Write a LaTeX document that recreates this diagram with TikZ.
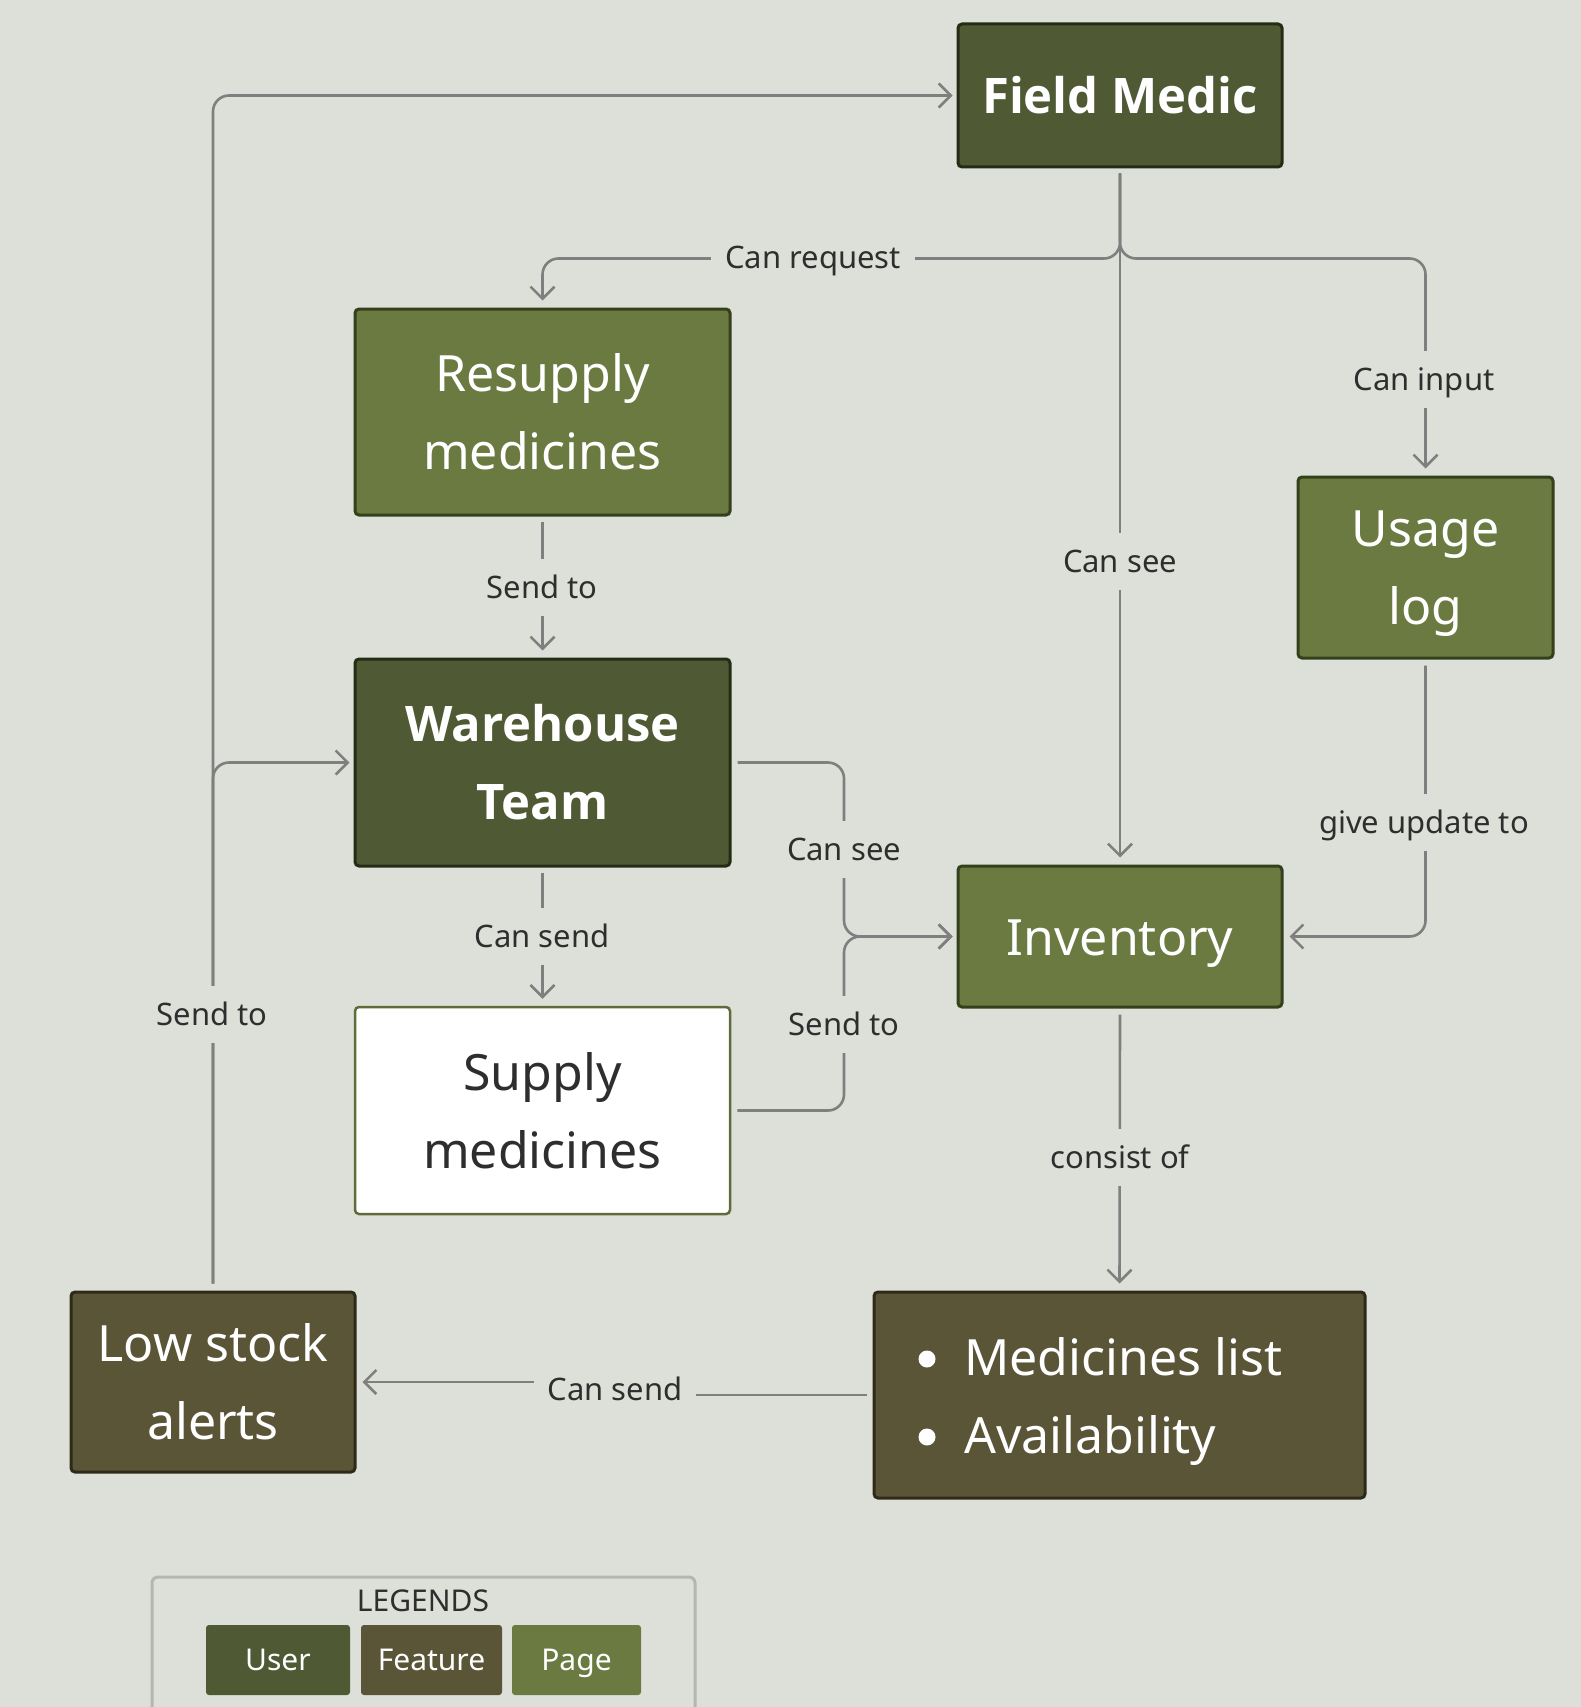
\documentclass[tikz,border=0pt]{standalone}
\usepackage{fontspec}
\setmainfont{Noto Sans}
\IfFontExistsTF{Noto Sans Bold}{\newfontfamily\boldfam{Noto Sans Bold}}{%
  \IfFontExistsTF{Open Sans Bold}{\newfontfamily\boldfam{Open Sans Bold}}{%
    \newfontfamily\boldfam{Noto Sans}[FakeBold=2.5]}}
\usetikzlibrary{arrows.meta,calc}
\definecolor{bg}{HTML}{DDE0D8}
\definecolor{userC}{HTML}{4F5A35}
\definecolor{featC}{HTML}{5B5538}
\definecolor{pageC}{HTML}{6A7A41}
\definecolor{userB}{HTML}{252B15}
\definecolor{featB}{HTML}{2E2A1A}
\definecolor{pageB}{HTML}{34401C}
\definecolor{supB}{HTML}{5F6B3A}
\definecolor{lineC}{HTML}{7F7F7F}
\definecolor{lblC}{HTML}{2E2E2E}
\definecolor{legB}{HTML}{B4B7B0}
\tikzset{
  box/.style={rectangle, rounded corners=4pt, line width=3pt, align=center, text=white, inner sep=0pt,
    font=\fontsize{50}{78}\selectfont},
  userbox/.style={box, fill=userC, draw=userB, font=\boldfam\fontsize{49}{78}\selectfont},
  featbox/.style={box, fill=featC, draw=featB},
  pagebox/.style={box, fill=pageC, draw=pageB},
  whitebox/.style={box, fill=white, draw=supB, line width=2.5pt, text=lblC},
  conn/.style={draw=lineC, line width=2.6pt, rounded corners=16pt,
    -{Straight Barb[length=12pt,width=24pt]}},
  lbl/.style={fill=bg, text=lblC, inner xsep=14pt, inner ysep=17pt,
    text height=23pt, text depth=0pt, font=\fontsize{31}{36}\selectfont},
  legitem/.style={rectangle, rounded corners=3pt, text=white, inner sep=0pt,
    minimum height=70pt, text height=21pt, text depth=0pt, font=\fontsize{30}{36}\selectfont},
}
\begin{document}
\begin{tikzpicture}[x=1pt,y=-1pt]
\fill[bg] (0,0) rectangle (1581,1707);
\useasboundingbox (0,0) rectangle (1581,1707);

% nodes
\node[userbox, minimum width=324pt, minimum height=143pt] (fm) at (1120,95.5) {Field Medic};
\node[pagebox, minimum width=375pt, minimum height=206pt] (res) at (542.5,412) {Resupply\\medicines};
\node[pagebox, minimum width=255pt, minimum height=181pt] (usage) at (1425.5,567.5) {Usage\\\smash{log}};
\node[userbox, minimum width=375pt, minimum height=207pt] (wh) at (542.5,762.5) {Warehouse\\Team};
\node[pagebox, minimum width=324pt, minimum height=141pt, text height=37pt, text depth=0pt] (inv) at (1120,936.5) {Inventory};
\node[whitebox, minimum width=375pt, minimum height=207pt] (sup) at (542.5,1110.5) {Supply\\medicines};
\node[featbox, minimum width=284pt, minimum height=180pt] (low) at (213,1382) {Low stock\\alerts};
\node[featbox, minimum width=491pt, minimum height=206pt] (meds) at (1119.5,1395) {};
\fill[white] (927,1359) circle (8.5pt);
\fill[white] (927,1437) circle (8.5pt);
\node[anchor=base west, text=white, inner sep=0pt, font=\fontsize{50}{78}\selectfont] (m1) at (964,1375) {Medicines list};
\node[anchor=base west, text=white, inner sep=0pt, font=\fontsize{50}{78}\selectfont] (m2) at (964,1453) {Availability};

% connectors
\draw[conn] ([yshift=-5pt]fm.south) -- ([yshift=-90pt]fm.south) -| ([yshift=7pt]res.north);
\draw[conn] ([yshift=-5pt]fm.south) -- ([yshift=-90pt]fm.south) -| ([yshift=7pt]usage.north);
\draw[conn] ([yshift=-5pt]fm.south) -- ([yshift=7pt]inv.north);
\draw[conn] ([yshift=-5pt]res.south) -- ([yshift=7pt]wh.north);
\draw[conn] ([yshift=-5pt]wh.south) -- ([yshift=7pt]sup.north);
\coordinate (mx) at (844,936.5);
\draw[conn] ([xshift=6pt]wh.east) -| (mx) -- ([xshift=-4pt]inv.west);
\draw[conn] ([xshift=6pt]sup.east) -| (mx) -- ([xshift=-4pt]inv.west);
\draw[conn] ([yshift=-6pt]usage.south) |- ([xshift=6pt]inv.east);
\draw[conn] ([yshift=-6pt]inv.south) -- ([yshift=7pt]meds.north);
\coordinate (cs) at (615,1389);
\draw[conn, rounded corners=0pt] ([xshift=-6pt]meds.west) -- (cs |- meds.west) -- (cs |- low.east) -- ([xshift=6pt]low.east);
\draw[conn] ([yshift=7pt]low.north) |- ([xshift=-4pt]fm.west);
\draw[conn] ([yshift=7pt]low.north) |- ([xshift=-4pt]wh.west);

% labels
\node[lbl] (l1) at (813,257) {Can request};
\node[lbl] (l2) at (1424,379) {Can input};
\node[lbl] (l3) at (1120,561) {Can see};
\node[lbl] (l4) at (542,587) {Send to};
\node[lbl] (l5) at (844,849) {Can see};
\node[lbl] (l6) at (1424,822) {give update to};
\node[lbl] (l7) at (542,936) {Can send};
\node[lbl] (l8) at (844,1024) {Send to};
\node[lbl] (l9) at (212,1014) {Send to};
\node[lbl] (l10) at (1120,1157) {consist of};
\node[lbl] (l11) at (cs) {Can send};

% legend
\draw[legB, line width=3pt, rounded corners=6pt] (152,1712) -- (152,1577) -- (695,1577) -- (695,1712);
\node[text=lblC, inner sep=0pt, font=\fontsize{30}{36}\selectfont] (legt) at (423,1601) {LEGENDS};
\node[legitem, fill=userC, minimum width=144pt] (lu) at (278,1660) {User};
\node[legitem, fill=featC, minimum width=141pt] (lf) at (431.5,1660) {Feature};
\node[legitem, fill=pageC, minimum width=129pt] (lp) at (576.5,1660) {Page};
\end{tikzpicture}
\end{document}
